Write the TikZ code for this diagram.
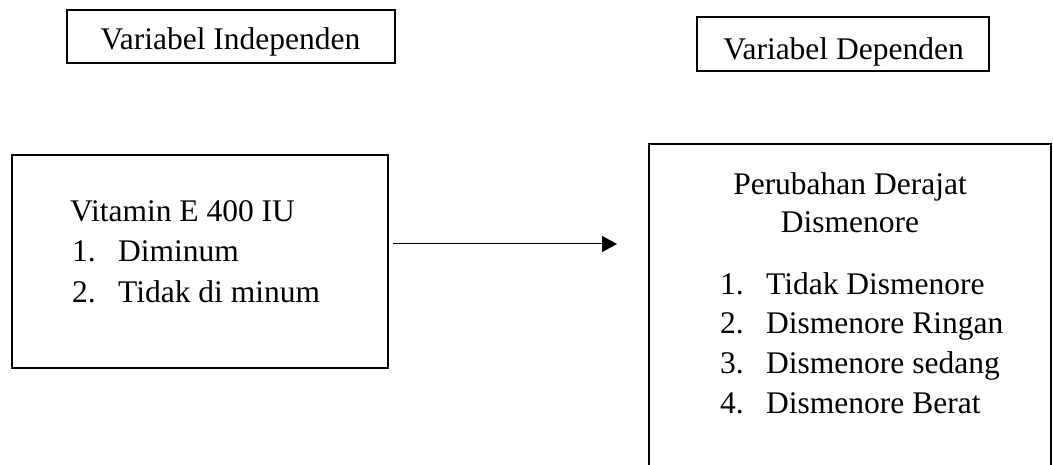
\documentclass[tikz,border=0pt]{standalone}
\usepackage{fontspec}
\setmainfont{Liberation Serif}
\usetikzlibrary{arrows.meta}
\tikzset{
  box/.style={draw, line width=2pt, inner sep=0pt},
  txt/.style={anchor=base west, inner sep=0pt, font=\fontsize{31.5}{40}\selectfont},
  ctxt/.style={anchor=base, inner sep=0pt, font=\fontsize{31.5}{40}\selectfont},
  arrowline/.style={line width=1pt, -{Triangle[length=15pt,width=16pt]}}
}
\newcommand{\itemtxt}[2]{\makebox[46pt][l]{#1}#2}

\begin{document}
\begin{tikzpicture}[x=1pt,y=-1pt]
\clip (0,0) rectangle (1053,465);
% heading boxes
\node[box, minimum width=328pt, minimum height=53pt] (indep) at (231,36.5) {};
\node[ctxt] (indeptxt) at (230.5,50) {Variabel Independen};
\node[box, minimum width=292pt, minimum height=54pt] (dep) at (843,44) {};
\node[ctxt] (deptxt) at (843.5,60) {Variabel Dependen};
% left box
\node[box, minimum width=376pt, minimum height=213pt] (vit) at (200,261.5) {};
\node[txt] (vittxt) at (70,222) {Vitamin E 400 IU};
\node[txt] (vit1) at (72,262) {\itemtxt{1.}{Diminum}};
\node[txt] (vit2) at (72,302) {\itemtxt{2.}{Tidak di minum}};
% right box
\node[box, minimum width=402pt, minimum height=356pt] (dis) at (850,322) {};
\node[ctxt] (distxt) at (850,195) {Perubahan Derajat};
\node[ctxt] (distxt2) at (850,233) {Dismenore};
\node[txt] (dis1) at (720,295) {\itemtxt{1.}{Tidak Dismenore}};
\node[txt] (dis2) at (720,334) {\itemtxt{2.}{Dismenore Ringan}};
\node[txt] (dis3) at (720,373) {\itemtxt{3.}{Dismenore sedang}};
\node[txt] (dis4) at (720,413) {\itemtxt{4.}{Dismenore Berat}};
% arrow
\coordinate (tip) at (617,244);
\draw[arrowline] ([xshift=4pt]vit.east |- tip) -- (tip);
\end{tikzpicture}
\end{document}
